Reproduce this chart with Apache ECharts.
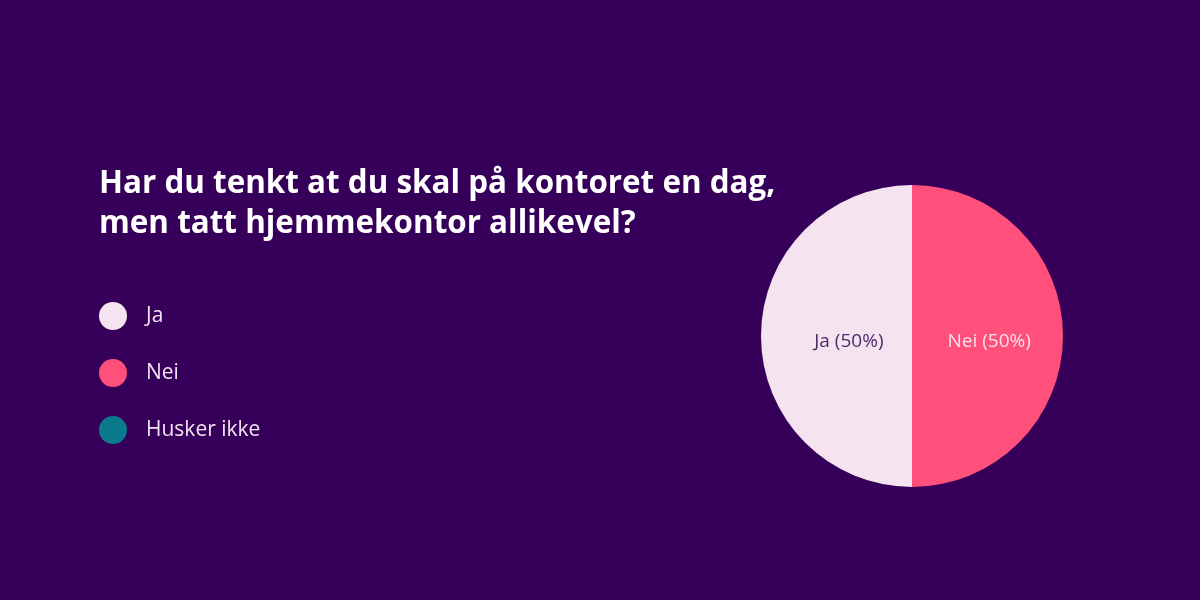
<!DOCTYPE html>
<html>
<head>
<meta charset="utf-8">
<script src="https://cdn.jsdelivr.net/npm/echarts@6/dist/echarts.min.js"></script>
<style>
html,body{margin:0;padding:0;background:#36005a;}
#chart{width:1200px;height:600px;}
</style>
</head>
<body>
<div id="chart"></div>
<script>
const titleText = 'Har du tenkt at du skal på kontoret en dag,\nmen tatt hjemmekontor allikevel?';
const categories = ['Ja', 'Nei', 'Husker ikke'];
const values = [50, 50, 0];
const colors = ['#f5e4f0', '#ff4f7b', '#0b7a8c'];
const labelColors = ['#4b2a6b', '#fbe1ec', '#ffffff'];

const chart = echarts.init(document.getElementById('chart'));
const FONT = 'Open Sans';
const data = categories.map((c, i) => ({
  name: c,
  value: values[i],
  itemStyle: { color: colors[i] },
  label: {
    rich: {
      t: {
        color: labelColors[i],
        fontFamily: FONT,
        fontSize: 19,
        width: i === 0 ? 100 : 86,
        align: i === 0 ? 'right' : 'left',
        padding: [12, 0, 0, 0]
      }
    }
  }
}));

chart.setOption({
  backgroundColor: '#36005a',
  animation: false,
  title: {
    text: titleText,
    left: 99,
    top: 164,
    padding: 0,
    textStyle: {
      color: '#ffffff',
      fontFamily: FONT,
      fontWeight: 'bold',
      fontSize: 31.4,
      lineHeight: 40
    }
  },
  legend: {
    orient: 'vertical',
    left: 99,
    top: 302,
    padding: 0,
    icon: 'circle',
    itemWidth: 28,
    itemHeight: 28,
    itemGap: 29,
    data: categories,
    itemStyle: { borderWidth: 0 },
    textStyle: {
      color: '#f3e3f0',
      fontFamily: FONT,
      fontSize: 21,
      padding: [0, 0, 0, 14]
    }
  },
  series: [{
    type: 'pie',
    center: [912, 336],
    radius: [0, 151],
    startAngle: 90,
    clockwise: false,
    silent: true,
    itemStyle: { borderWidth: 0 },
    label: {
      show: true,
      position: 'inside',
      formatter: p => p.value > 0 ? '{t|' + p.name + ' (' + Math.round(p.percent) + '%)}' : ''
    },
    labelLine: { show: false },
    data: data
  }]
});
</script>
</body>
</html>
